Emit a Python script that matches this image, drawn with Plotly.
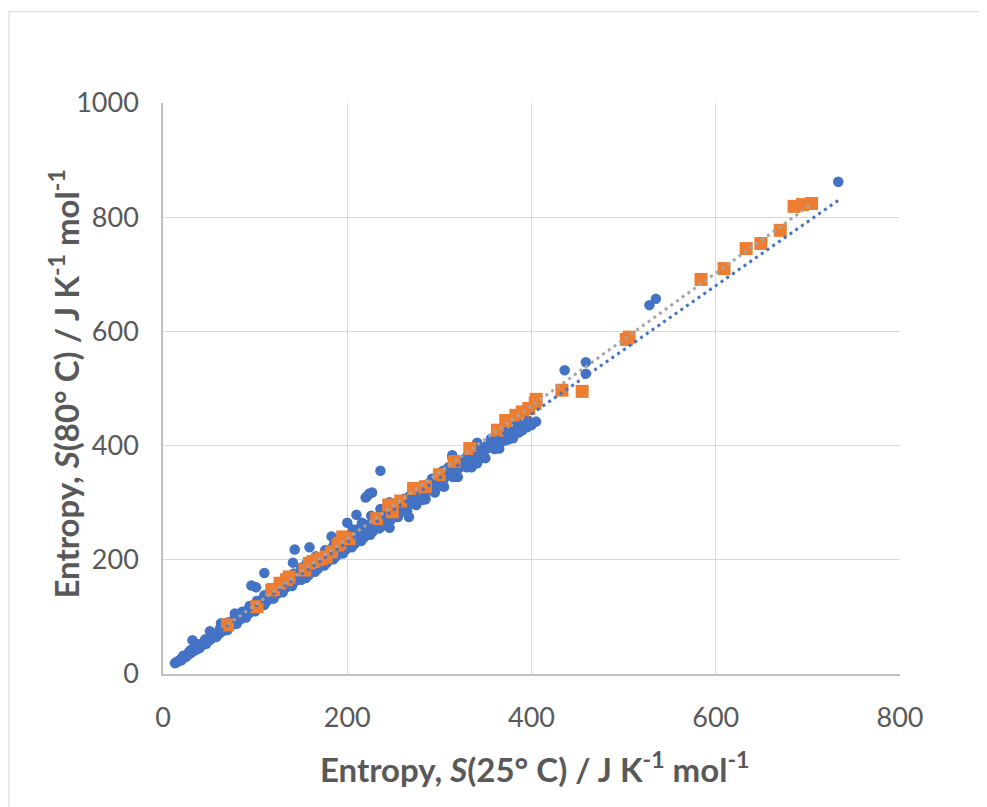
import numpy as np
import plotly.graph_objects as go

# ---------------- data ----------------
# Blue series: S(25 C) vs S(80 C)
blue_x = [13,14,15,16,17,18,19,20,21,22,23,24,25,26,27,28,29,30,31,32,33,34,35,36,37,38,39,40,42,44,46,48,50,52,54,56,58,60,
          20,28,32,35,40,45,51,55,58,63,47,53,38,25,43,
          22,30,38,46,54,62,70,78,86,94,102,110,118,126,134,142,150,
          66,74,82,91,99,107,116,124,132,140,148,
          63,69,75,81,87,93,99,105,111,117,123,129,135,141,147,
          62,64,66,68,70,72,74,76,78,80,82,84,86,88,90,92,94,96,98,100,103,106,109,112,115,118,121,124,127,130,133,136,139,142,145,148,
          65,72,85,90,100,105,110,115,120,125,130,135,140,145,150,
          70,80,90,100,110,120,130,140,150,
          78,96,101,110,141,143,159,
          152,155,158,161,164,167,170,173,176,179,182,185,188,191,194,197,200,203,206,209,212,215,218,221,224,227,230,233,236,239,242,245,248,
          155,165,175,185,195,205,215,225,235,245,
          158,168,178,188,198,208,218,228,238,248,
          160,170,180,190,200,210,220,230,240,
          153,162,171,178,187,196,204,213,222,231,240,249,
          158,168,183,193,203,213,228,243,
          156,166,176,186,196,206,216,226,236,246,
          183,200,210,220,224,236,246,227,222,
          252,256,260,264,268,272,276,280,285,290,295,300,305,310,316,322,328,334,340,346,352,358,365,372,380,388,396,
          255,265,275,285,295,305,320,335,350,365,380,395,
          260,272,284,300,315,330,345,360,375,390,
          256,266,276,286,296,306,318,330,344,356,370,384,
          262,274,292,304,
          258,268,278,288,298,310,314,325,341,350,332,348,
          267,282,341,314,336,356,
          371,386,395,400,405,436,459,459,528,535,733]
blue_y = [19,20,21,22,23,24,25,27,27,28,30,31,31,33,34,35,36,37,38,40,41,41,43,44,46,45,48,49,50,53,55,57,60,61,64,66,68,70,
          24,38,59,47,46,58,75,68,65,89,53,63,44,30,52,
          32,42,52,61,71,80,90,100,109,119,128,138,148,157,167,176,186,
          82,91,100,111,120,129,139,149,158,167,176,
          76,83,90,97,103,110,117,124,130,137,144,151,158,164,171,
          72,75,76,79,80,84,85,88,90,92,95,96,99,101,103,106,107,110,112,114,118,121,124,127,131,134,137,141,144,147,151,154,158,161,164,167,
          80,88,104,108,120,125,130,137,143,148,154,160,165,171,176,
          77,88,99,110,121,132,143,154,165,
          106,155,152,177,195,218,222,
          172,175,178,181,185,188,191,195,198,201,205,208,211,215,218,221,225,228,231,235,238,241,244,248,251,254,258,261,264,268,271,274,278,
          168,179,190,201,211,222,233,244,255,266,
          173,184,195,206,217,228,239,250,260,271,
          188,200,212,224,236,248,259,270,282,
          182,192,203,211,221,231,241,251,261,272,282,292,
          191,203,220,232,244,255,273,290,
          194,206,217,229,241,253,265,277,289,301,
          241,265,279,309,316,356,256,318,312,
          283,288,292,297,301,306,310,315,320,326,331,337,342,348,355,361,368,375,382,389,395,402,409,417,426,435,444,
          275,285,296,306,318,328,345,362,378,395,413,432,
          285,298,312,329,345,362,378,394,411,427,
          297,308,319,331,342,353,367,381,397,410,426,442,
          307,320,342,356,
          300,312,323,333,345,362,380,375,405,398,370,380,
          275,305,369,383,390,412,
          409,423,434,436,442,532,546,526,646,657,862]

# Orange series
orange_x = [70,102,118,120,127,134,137,154,159,163,168,172,177,183,190,192,195,202,232,245,249,258,272,285,300,316,333,
            363,372,383,390,397,404,405,433,455,503,506,584,609,633,649,670,685,694,704]
orange_y = [86,118,147,148,159,165,170,182,194,197,200,202,205,214,226,229,240,237,272,296,284,303,325,328,349,372,395,
            427,444,453,459,465,474,481,497,495,586,590,691,710,745,754,777,819,822,824]

x_ticks = [0, 200, 400, 600, 800]
y_ticks = [0, 200, 400, 600, 800, 1000]

x_title = "Entropy, <i>S</i>(25° C) / J K<sup>-1</sup> mol<sup>-1</sup>"
y_title = "Entropy, <i>S</i>(80° C) / J K<sup>-1</sup> mol<sup>-1</sup>"

BLUE = "#4472C4"
ORANGE = "#ED7D31"
GREY = "#A5A5A5"

# linear trendlines fitted to each series
bx = np.array(blue_x, float); by = np.array(blue_y, float)
ox = np.array(orange_x, float); oy = np.array(orange_y, float)
bs, bi = np.polyfit(bx, by, 1)
os_, oi = np.polyfit(ox, oy, 1)
btx = np.array([bx.min(), bx.max()])
otx = np.array([ox.min(), ox.max()])

fig = go.Figure()
fig.add_trace(go.Scatter(x=blue_x, y=blue_y, mode="markers",
                         marker=dict(symbol="circle", size=10.5, color=BLUE, line=dict(width=0))))
fig.add_trace(go.Scatter(x=orange_x, y=orange_y, mode="markers",
                         marker=dict(symbol="square", size=13, color=ORANGE, line=dict(width=0))))
fig.add_trace(go.Scatter(x=btx, y=bs * btx + bi, mode="lines",
                         line=dict(color=BLUE, width=3, dash="3px,4px")))
fig.add_trace(go.Scatter(x=otx, y=os_ * otx + oi, mode="lines",
                         line=dict(color=GREY, width=3, dash="3px,4px")))

# page offset (body margin) compensation
OFF = 8
L, R, T, B = 162.7 - OFF, 900.0 - OFF, 102.5 - OFF, 674.0 - OFF
W, H = 987 - OFF, 807 - OFF
pw, ph = R - L, B - T

def px2paper_x(p):
    return (p - OFF - L) / pw

def px2paper_y(p):
    return (B - (p - OFF)) / ph

font_fam = "Lato, 'Open Sans', sans-serif"

fig.update_layout(
    width=W, height=H,
    margin=dict(l=L, r=W - R, t=T, b=H - B, autoexpand=False),
    paper_bgcolor="white", plot_bgcolor="white",
    showlegend=False,
    font=dict(family=font_fam, color="#595959"),
    xaxis=dict(range=[0, 800], tickvals=x_ticks, ticktext=[str(v) for v in x_ticks],
               showgrid=True, gridcolor="#D9D9D9", gridwidth=1,
               zeroline=False, showline=True, linecolor="#BFBFBF", linewidth=1.5,
               ticks="", ticklabelstandoff=19,
               tickfont=dict(size=27, family=font_fam, color="#595959"),
               fixedrange=True),
    yaxis=dict(range=[0, 1000], tickvals=y_ticks, ticktext=[str(v) for v in y_ticks],
               showgrid=True, gridcolor="#D9D9D9", gridwidth=1,
               zeroline=False, showline=True, linecolor="#BFBFBF", linewidth=1.5,
               ticks="", ticklabelstandoff=17,
               tickfont=dict(size=27, family=font_fam, color="#595959"),
               fixedrange=True),
    annotations=[
        dict(text=x_title, xref="paper", yref="paper",
             x=px2paper_x(534), y=px2paper_y(767), xanchor="center", yanchor="middle",
             showarrow=False, font=dict(size=33, family=font_fam, color="#595959", weight="bold")),
        dict(text=y_title, xref="paper", yref="paper", textangle=-90,
             x=px2paper_x(64), y=px2paper_y(384), xanchor="center", yanchor="middle",
             showarrow=False, font=dict(size=33, family=font_fam, color="#595959", weight="bold")),
    ],
    shapes=[dict(type="rect", xref="paper", yref="paper",
                 x0=px2paper_x(OFF + 0.5), x1=px2paper_x(1100), y0=px2paper_y(900), y1=px2paper_y(11),
                 line=dict(color="#D9D9D9", width=1), fillcolor="rgba(0,0,0,0)", layer="below")],
)

fig.write_html("out.html")
